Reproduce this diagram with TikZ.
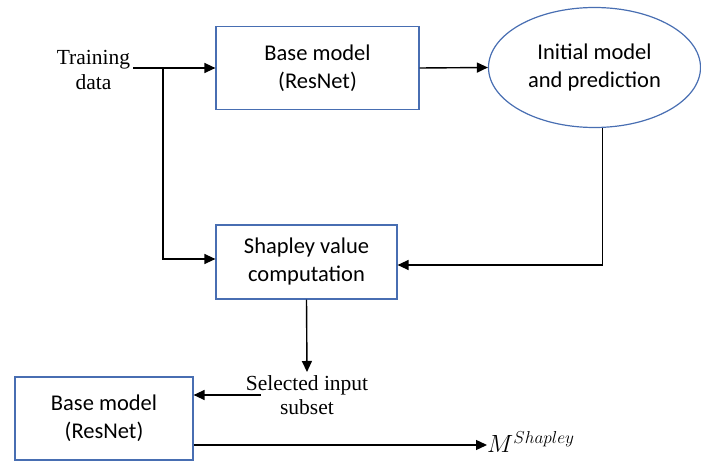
\documentclass[tikz,border=0pt]{standalone}
\usepackage{fontspec}
\setmainfont{Liberation Serif}
\newfontfamily\boxfont{Carlito}
\usetikzlibrary{arrows.meta,shapes.geometric}
\definecolor{boxblue}{RGB}{72,110,178}
\begin{document}
\begin{tikzpicture}[x=1pt,y=-1pt,
  blk/.style={draw=boxblue, line width=1.2pt, rectangle, align=center,
    font=\boxfont\fontsize{22.5}{28}\selectfont},
  txt/.style={align=center, inner sep=3pt, font=\fontsize{21.5}{24.5}\selectfont},
  arr/.style={-{Triangle[length=11pt,width=10pt]}, line width=1.4pt}]
\useasboundingbox (0,0) rectangle (701,462);
\node[txt] (train) at (93.5,70) {Training\\data};
\node[blk, minimum width=203, minimum height=83] (base1) at (317.5,68) {Base model\\(ResNet)};
\node[blk, ellipse, minimum width=212, minimum height=120, inner sep=0pt] (init) at (594.5,67.5) {Initial model\\and prediction};
\node[blk, minimum width=181, minimum height=74] (shap) at (306.5,262) {Shapley value\\computation};
\node[txt] (sel) at (307,395) {Selected input\\subset};
\node[blk, minimum width=178, minimum height=83] (base2) at (104,418.5) {Base model\\(ResNet)};
\node[txt, anchor=west, inner sep=0pt, font=\fontsize{23}{24}\selectfont] (mout) at (487,442) {$M^{Shapley}$};
\coordinate (split) at (163,68);
\draw [arr] (train.east |- base1.west) -- (base1.west);
\draw [arr] (split) |- ([yshift=3pt]shap.west);
\draw [arr] (base1.east) -- (init.west);
\draw [arr] ([xshift=8pt]init.south) |- ([yshift=-3pt]shap.east);
\draw [arr] (shap.south) -- (sel.north);
\draw [arr] ([xshift=18pt]sel.west) -- (sel.west -| base2.east);
\draw [arr] (base2.east |- 0,445) -- (mout.west |- 0,445);
\end{tikzpicture}
\end{document}
